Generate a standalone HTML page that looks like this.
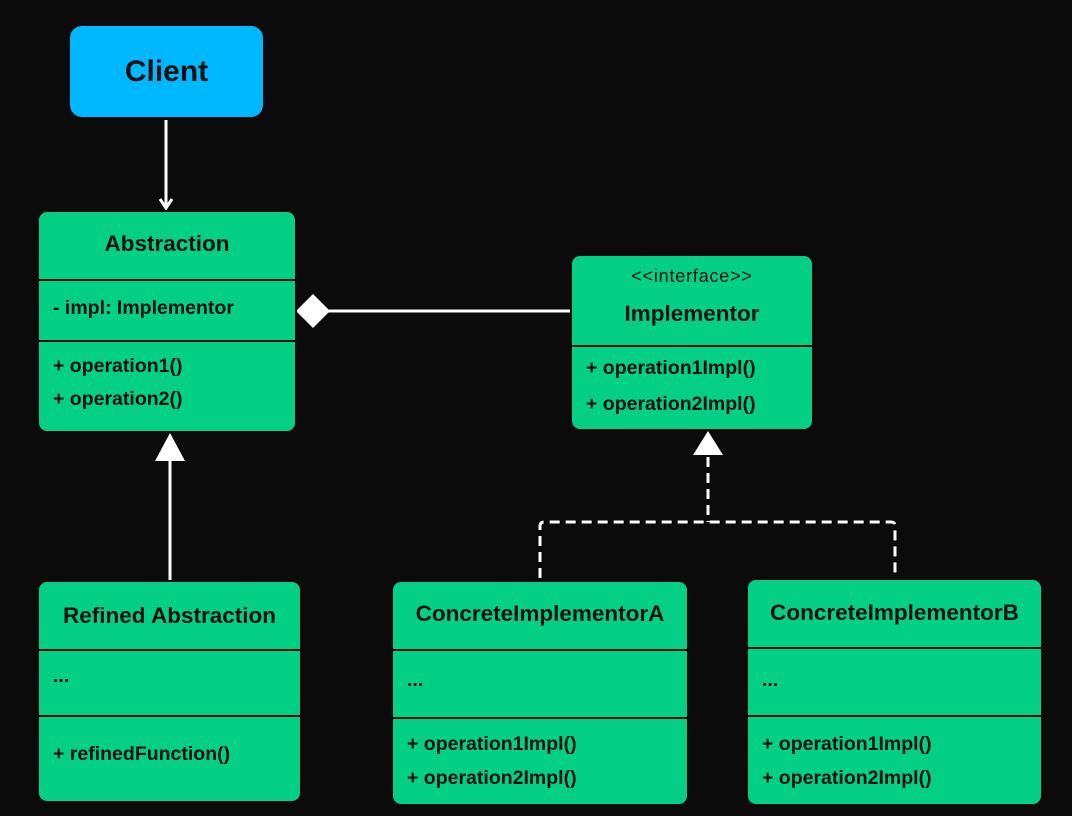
<!DOCTYPE html>
<html><head><style>
body{margin:0;width:1072px;height:816px;background:#0c0b0b;position:relative;overflow:hidden;font-family:"Liberation Sans",sans-serif;font-weight:bold;color:#111}
.b{position:absolute;background:#03cf87;border:2px solid #0a0a0a;border-radius:10px;box-sizing:border-box}
.d{position:absolute;left:0;right:0;height:2px;background:#0a0a0a}
.t{position:absolute;white-space:nowrap}
.m{position:absolute;left:14px;font-size:19.5px}
.h{font-size:22.5px}
</style></head><body>
<svg width="1072" height="816" style="position:absolute;left:0;top:0">
<g stroke="#fff" stroke-width="3" fill="none">
<line x1="166" y1="120" x2="166" y2="207"/>
<polyline points="160,199 166,208 172,199"/>
<line x1="328" y1="311" x2="570" y2="311"/>
<line x1="170" y1="460" x2="170" y2="580"/>
<path d="M708 457 V522 M540 578 V526 Q540 522 544 522 H891 Q895 522 895 526 V578" stroke-dasharray="10,6"/>
</g>
<polygon points="296,311 313,294 330,311 313,328" fill="#fff"/>
<polygon points="170,433 155,461 185,461" fill="#fff"/>
<polygon points="708,431 693,455 723,455" fill="#fff"/>
</svg>

<div class="b" style="left:68px;top:24px;width:197px;height:95px;background:#00b8ff;border-radius:14px"><div class="t" style="left:0;right:0;text-align:center;top:29px;font-size:30px">Client</div></div>

<div class="b" style="left:37px;top:210px;width:260px;height:223px">
<div class="t h" style="left:0;right:0;text-align:center;top:19px">Abstraction</div>
<div class="d" style="top:67px"></div>
<div class="m" style="top:85px">- impl: Implementor</div>
<div class="d" style="top:128px"></div>
<div class="m" style="top:143px">+ operation1()</div>
<div class="m" style="top:176px">+ operation2()</div>
</div>

<div class="b" style="left:570px;top:254px;width:244px;height:177px">
<div class="t" style="left:0;right:0;text-align:center;top:10px;font-size:18px;font-weight:normal;letter-spacing:0.8px">&lt;&lt;interface&gt;&gt;</div>
<div class="t h" style="left:0;right:0;text-align:center;top:45px">Implementor</div>
<div class="d" style="top:89px"></div>
<div class="m" style="top:101px">+ operation1Impl()</div>
<div class="m" style="top:137px">+ operation2Impl()</div>
</div>

<div class="b" style="left:37px;top:580px;width:265px;height:223px">
<div class="t h" style="left:0;right:0;text-align:center;top:21px">Refined Abstraction</div>
<div class="d" style="top:67px"></div>
<div class="m" style="top:83px">...</div>
<div class="d" style="top:133px"></div>
<div class="m" style="top:161px">+ refinedFunction()</div>
</div>

<div class="b" style="left:391px;top:580px;width:298px;height:226px">
<div class="t h" style="left:0;right:0;text-align:center;top:19px">ConcreteImplementorA</div>
<div class="d" style="top:67px"></div>
<div class="m" style="top:87px">...</div>
<div class="d" style="top:135px"></div>
<div class="m" style="top:151px">+ operation1Impl()</div>
<div class="m" style="top:185px">+ operation2Impl()</div>
</div>

<div class="b" style="left:746px;top:578px;width:297px;height:228px">
<div class="t h" style="left:0;right:0;text-align:center;top:20px">ConcreteImplementorB</div>
<div class="d" style="top:67px"></div>
<div class="m" style="top:89px">...</div>
<div class="d" style="top:135px"></div>
<div class="m" style="top:153px">+ operation1Impl()</div>
<div class="m" style="top:187px">+ operation2Impl()</div>
</div>
</body></html>
